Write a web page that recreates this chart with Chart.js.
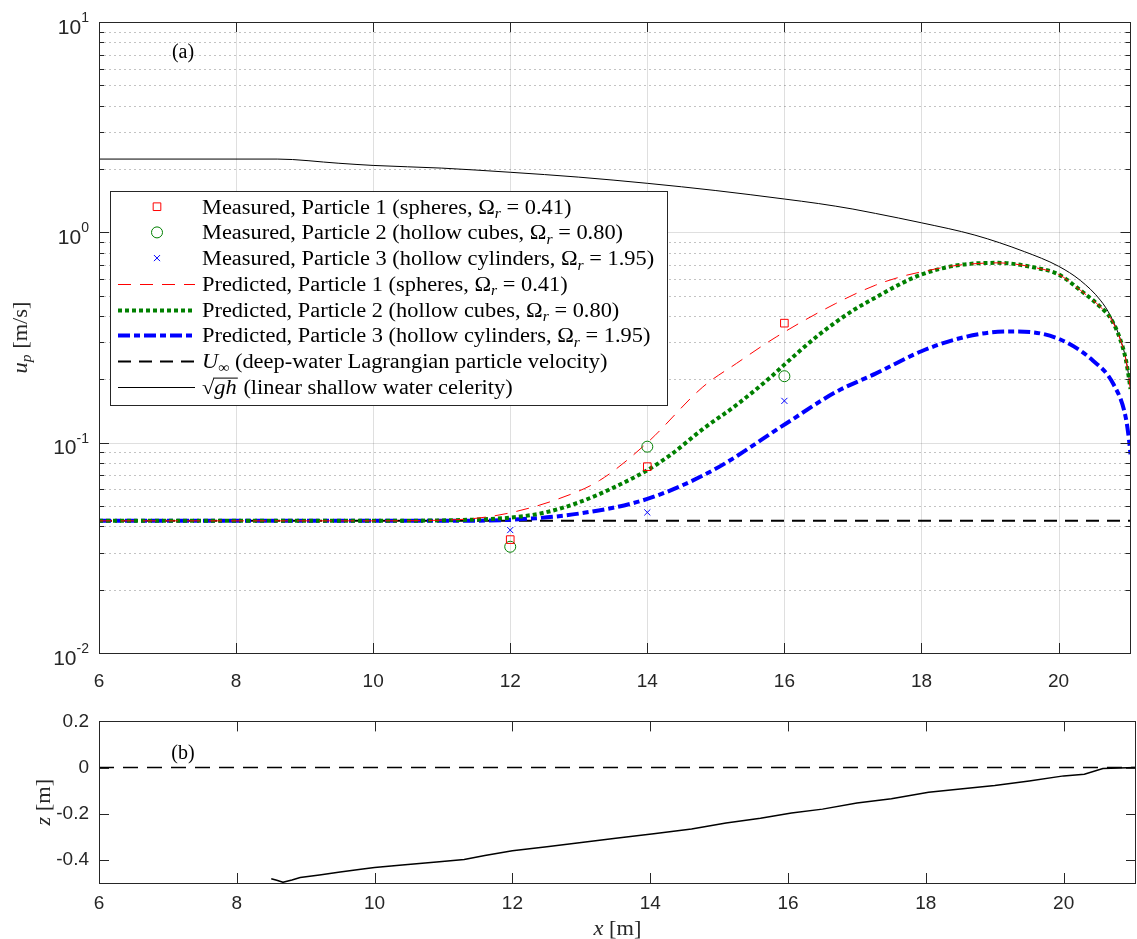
<!DOCTYPE html>
<html>
<head>
<meta charset="utf-8">
<script src="https://cdn.jsdelivr.net/npm/chart.js@4.4.0/dist/chart.umd.min.js"></script>
<style>
  html, body { margin: 0; padding: 0; background: #fff; }
  #wrap { position: relative; width: 1137px; height: 939px; }
  canvas { position: absolute; left: 0; }
  #top { top: 0; }
  #bottom { top: 700px; }
</style>
</head>
<body>
<div id="wrap">
  <canvas id="top" width="1137" height="700"></canvas>
  <canvas id="bottom" width="1137" height="239"></canvas>
</div>
<script>
// ---- data ----
var tickX = [6, 8, 10, 12, 14, 16, 18, 20];
var tickLogY = [0.01, 0.1, 1, 10];
var tickZ = [-0.4, -0.2, 0, 0.2];

var measuredX = [12, 14, 16];
var measured1 = [0.0346, 0.0769, 0.370];
var measured2 = [0.0320, 0.0957, 0.207];
var measured3 = [0.0384, 0.0466, 0.158];

var pred1X = [6, 10, 11, 11.5, 12, 12.7, 13.3, 14, 14.81, 15.3, 15.88, 16.75, 17.33, 17.7, 18.0, 18.54, 19.12, 19.65, 20.0, 20.32, 20.61, 20.76, 20.9, 20.98, 21.03, 21.05];
var pred1Y = [0.0425, 0.0425, 0.0428, 0.0437, 0.0464, 0.054, 0.066, 0.100, 0.184, 0.238, 0.318, 0.459, 0.561, 0.615, 0.649, 0.698, 0.716, 0.680, 0.631, 0.530, 0.442, 0.390, 0.310, 0.250, 0.200, 0.180];

var pred2X = [6, 10, 11, 11.5, 12, 12.5, 13, 13.5, 14, 14.33, 14.81, 15.3, 15.8, 16, 16.5, 17, 17.33, 17.7, 18.0, 18.5, 19.12, 19.65, 20.0, 20.32, 20.61, 20.76, 20.9, 20.98, 21.03, 21.05];
var pred2Y = [0.0425, 0.0425, 0.0427, 0.0431, 0.0440, 0.0465, 0.0520, 0.0610, 0.0740, 0.0870, 0.116, 0.151, 0.205, 0.235, 0.325, 0.425, 0.490, 0.570, 0.630, 0.695, 0.716, 0.680, 0.631, 0.530, 0.442, 0.390, 0.310, 0.250, 0.200, 0.180];

var pred3X = [6, 11, 12, 13, 14, 14.96, 16.02, 16.75, 17.33, 18.0, 18.5, 19.0, 19.4, 20.0, 20.5, 20.8, 20.98, 21.03, 21.05];
var pred3Y = [0.0425, 0.0425, 0.0430, 0.0460, 0.0540, 0.0740, 0.123, 0.174, 0.213, 0.272, 0.310, 0.334, 0.338, 0.312, 0.246, 0.190, 0.132, 0.102, 0.088];

var uInfX = [6, 21.05];
var uInfY = [0.0425, 0.0425];

var celX = [6, 8.6, 9.5, 10, 11, 12, 13, 14, 15, 16, 16.5, 17, 17.33, 18, 18.78, 19.5, 20.0, 20.32, 20.61, 20.76, 20.9, 20.98, 21.03, 21.05];
var celY = [2.23, 2.23, 2.13, 2.08, 2.02, 1.93, 1.83, 1.71, 1.58, 1.44, 1.37, 1.29, 1.23, 1.11, 0.97, 0.81, 0.69, 0.59, 0.476, 0.400, 0.312, 0.252, 0.202, 0.181];

var bedX = [8.5, 8.58, 8.67, 8.8, 8.92, 9.2, 9.5, 9.8, 10.0, 10.4, 10.9, 11.3, 11.6, 12.0, 12.5, 13.0, 13.5, 14.05, 14.6, 15.1, 15.6, 16.05, 16.5, 17.0, 17.5, 18.04, 18.5, 19.0, 19.5, 20.0, 20.3, 20.57, 20.8, 21.07];
var bedZ = [-0.482, -0.488, -0.497, -0.487, -0.476, -0.465, -0.452, -0.440, -0.433, -0.422, -0.409, -0.398, -0.381, -0.360, -0.343, -0.325, -0.306, -0.287, -0.266, -0.240, -0.220, -0.197, -0.180, -0.153, -0.135, -0.107, -0.093, -0.078, -0.058, -0.036, -0.029, -0.004, -0.002, 0.0];

var seaX = [6, 21.05];
var seaZ = [0, 0];

var labels = [
  'Measured, Particle 1 (spheres, Ω_r = 0.41)',
  'Measured, Particle 2 (hollow cubes, Ω_r = 0.80)',
  'Measured, Particle 3 (hollow cylinders, Ω_r = 1.95)',
  'Predicted, Particle 1 (spheres, Ω_r = 0.41)',
  'Predicted, Particle 2 (hollow cubes, Ω_r = 0.80)',
  'Predicted, Particle 3 (hollow cylinders, Ω_r = 1.95)',
  '$U$_∞ (deep-water Lagrangian particle velocity)',
  '√{gh} (linear shallow water celerity)'
];

// ---- drawing helpers ----
var AXIS = '#262626';
var SERIF = '"Liberation Serif", "DejaVu Serif", serif';
var SANS = '"Liberation Sans", Arial, sans-serif';
var STRETCH = 1.12; // computer-modern-ish width

function pts(xs, ys) {
  return xs.map(function (x, i) { return { x: x, y: ys[i] }; });
}

function richParts(str) {
  var re = /\$([^$]+)\$|_(.)|√\{([^}]+)\}|([^$_√]+)/g, m, out = [];
  while ((m = re.exec(str))) {
    if (m[1]) out.push({ t: m[1], it: true });
    else if (m[2]) out.push({ t: m[2], sub: true, it: /[a-z]/i.test(m[2]) });
    else if (m[3]) out.push({ t: m[3], sqrt: true, it: true });
    else out.push({ t: m[4] });
  }
  return out;
}
function partFont(p, size) {
  return (p.it ? 'italic ' : '') + (p.sub ? Math.round(size * 0.7) : size) + 'px ' + SERIF;
}
function richWidth(ctx, str, size) {
  var w = 0;
  richParts(str).forEach(function (p) {
    if (p.sqrt) { ctx.font = size + 'px ' + SERIF; w += ctx.measureText('√').width + 1; }
    ctx.font = partFont(p, size);
    w += ctx.measureText(p.t).width;
  });
  return w * STRETCH;
}
function richText(ctx, str, x0, y, size) {
  var x = 0;
  ctx.save();
  ctx.translate(x0, y);
  ctx.scale(STRETCH, 1);
  ctx.textAlign = 'left';
  ctx.textBaseline = 'alphabetic';
  richParts(str).forEach(function (p) {
    if (p.sqrt) {
      ctx.font = size + 'px ' + SERIF;
      ctx.fillText('√', x, 0);
      x += ctx.measureText('√').width - 1;
      ctx.font = partFont(p, size);
      var w = ctx.measureText(p.t).width;
      ctx.fillRect(x, Math.round(-size * 0.78), w + 2, 1);
      ctx.fillText(p.t, x + 1, 0);
      x += w + 2;
      return;
    }
    ctx.font = partFont(p, size);
    ctx.fillText(p.t, x, p.sub ? size * 0.22 : 0);
    x += ctx.measureText(p.t).width;
  });
  ctx.restore();
}
function rotatedTitle(ctx, str, cx, cy, size) {
  ctx.save();
  ctx.translate(cx, cy);
  ctx.rotate(-Math.PI / 2);
  ctx.fillStyle = AXIS;
  richText(ctx, str, -richWidth(ctx, str, size) / 2, 7, size);
  ctx.restore();
}
function hline(ctx, x1, x2, y) {
  y = Math.round(y) + 0.5;
  ctx.beginPath(); ctx.moveTo(x1, y); ctx.lineTo(x2, y); ctx.stroke();
}
function vline(ctx, x, y1, y2) {
  x = Math.round(x) + 0.5;
  ctx.beginPath(); ctx.moveTo(x, y1); ctx.lineTo(x, y2); ctx.stroke();
}

// grid, minor grid and inward ticks, drawn from the scales
var framePlugin = {
  id: 'frame',
  beforeDatasetsDraw: function (chart, args, opts) {
    var ctx = chart.ctx, a = chart.chartArea, sx = chart.scales.x, sy = chart.scales.y;
    ctx.save();
    ctx.lineWidth = 1;
    if (opts.grid) {
      ctx.strokeStyle = 'rgba(38,38,38,0.15)';
      tickX.forEach(function (v) { if (v > 6) vline(ctx, sx.getPixelForValue(v), a.top, a.bottom); });
      ctx.setLineDash([2, 3]);
      ctx.strokeStyle = 'rgba(38,38,38,0.28)';
      [0.01, 0.1, 1].forEach(function (d) {
        for (var k = 2; k <= 9; k++) hline(ctx, a.left, a.right, sy.getPixelForValue(k * d));
      });
      ctx.setLineDash([]);
      ctx.strokeStyle = 'rgba(38,38,38,0.15)';
      [0.1, 1].forEach(function (v) { hline(ctx, a.left, a.right, sy.getPixelForValue(v)); });
    }
    ctx.restore();
  },
  afterDatasetsDraw: function (chart, args, opts) {
    var ctx = chart.ctx, a = chart.chartArea, sx = chart.scales.x, sy = chart.scales.y;
    ctx.save();
    ctx.strokeStyle = AXIS;
    ctx.lineWidth = 1;
    tickX.forEach(function (v) {
      var p = sx.getPixelForValue(v);
      vline(ctx, p, a.bottom, a.bottom - 10);
      vline(ctx, p, a.top, a.top + 10);
    });
    sy.ticks.forEach(function (t) {
      var p = sy.getPixelForValue(t.value);
      hline(ctx, a.left, a.left + 10, p);
      hline(ctx, a.right - 10, a.right, p);
    });
    if (opts.grid) {
      [0.01, 0.1, 1].forEach(function (d) {
        for (var k = 2; k <= 9; k++) {
          var p = sy.getPixelForValue(k * d);
          hline(ctx, a.left, a.left + 5, p);
          hline(ctx, a.right - 5, a.right, p);
        }
      });
    }
    ctx.strokeRect(Math.round(a.left) + 0.5, Math.round(a.top) + 0.5,
      Math.round(a.right - a.left) - 1, Math.round(a.bottom - a.top));
    ctx.restore();
  },
  afterDraw: function (chart, args, opts) {
    var ctx = chart.ctx, a = chart.chartArea, sy = chart.scales.y;
    ctx.save();
    ctx.fillStyle = AXIS;
    if (opts.logLabels) {
      sy.ticks.forEach(function (t) {
        var p = sy.getPixelForValue(t.value);
        var e = String(Math.round(Math.log10(t.value)));
        ctx.font = '14px ' + SANS;
        var ew = ctx.measureText(e).width;
        ctx.textAlign = 'right';
        ctx.textBaseline = 'middle';
        ctx.fillText(e, 89, p - 4);
        ctx.font = '21px ' + SANS;
        ctx.fillText('10', 89 - ew, p + 6);
      });
    }
    ctx.fillStyle = '#000';
    ctx.font = '20px ' + SERIF;
    ctx.textAlign = 'center';
    ctx.textBaseline = 'middle';
    ctx.fillText(opts.panel, 183, a.top + opts.panelDy);
    rotatedTitle(ctx, opts.yTitle, opts.yTitleX, (a.top + a.bottom) / 2, 20);
    if (opts.xTitle) {
      ctx.fillStyle = AXIS;
      var w = richWidth(ctx, opts.xTitle, 20);
      richText(ctx, opts.xTitle, (a.left + a.right) / 2 - w / 2, chart.height - 4, 20);
    }
    ctx.restore();
  }
};

// legend drawn inside the plot area, like the original
var boxLegend = {
  id: 'boxLegend',
  afterDatasetsDraw: function (chart) {
    var ctx = chart.ctx;
    var left = 110, top = 191, right = 667, bottom = 405, row = 25.7, first = 206.7;
    ctx.save();
    ctx.fillStyle = '#fff';
    ctx.fillRect(left, top, right - left, bottom - top);
    ctx.strokeStyle = AXIS;
    ctx.lineWidth = 1;
    ctx.strokeRect(left + 0.5, top + 0.5, right - left, bottom - top);
    chart.data.datasets.forEach(function (ds, i) {
      var cy = first + i * row;
      ctx.save();
      if (ds.showLine) {
        ctx.strokeStyle = ds.borderColor;
        ctx.lineWidth = ds.borderWidth;
        ctx.setLineDash(ds.borderDash || []);
        ctx.beginPath();
        ctx.moveTo(118, Math.round(cy) + 0.5);
        ctx.lineTo(195, Math.round(cy) + 0.5);
        ctx.stroke();
      } else {
        ctx.strokeStyle = ds.borderColor;
        ctx.fillStyle = 'rgba(0,0,0,0)';
        ctx.lineWidth = 1;
        Chart.helpers.drawPoint(ctx, { pointStyle: ds.pointStyle, radius: ds.pointRadius, rotation: 0, borderWidth: 1 }, 157, cy);
      }
      ctx.restore();
      ctx.fillStyle = '#000';
      richText(ctx, ds.label, 202, cy + 7, 20);
    });
    ctx.restore();
  }
};

function fixTicks(values) {
  return function (scale) { scale.ticks = values.map(function (v) { return { value: v }; }); };
}

var tickFont = { family: SANS, size: 19 };

new Chart(document.getElementById('top'), {
  type: 'scatter',
  data: {
    datasets: [
      { label: labels[0], data: pts(measuredX, measured1), pointStyle: 'rect', pointRadius: 5.4, borderColor: '#ff0000', backgroundColor: 'rgba(0,0,0,0)', borderWidth: 1 },
      { label: labels[1], data: pts(measuredX, measured2), pointStyle: 'circle', pointRadius: 5.5, borderColor: '#008000', backgroundColor: 'rgba(0,0,0,0)', borderWidth: 1 },
      { label: labels[2], data: pts(measuredX, measured3), pointStyle: 'crossRot', pointRadius: 4.3, borderColor: '#0000ff', backgroundColor: 'rgba(0,0,0,0)', borderWidth: 1 },
      { label: labels[3], data: pts(pred1X, pred1Y), showLine: true, pointRadius: 0, borderColor: '#ff0000', borderWidth: 1, borderDash: [13, 9], cubicInterpolationMode: 'monotone' },
      { label: labels[4], data: pts(pred2X, pred2Y), showLine: true, pointRadius: 0, borderColor: '#008000', borderWidth: 4, borderDash: [4, 3], cubicInterpolationMode: 'monotone' },
      { label: labels[5], data: pts(pred3X, pred3Y), showLine: true, pointRadius: 0, borderColor: '#0000ff', borderWidth: 4, borderDash: [12, 4, 6, 4], cubicInterpolationMode: 'monotone' },
      { label: labels[6], data: pts(uInfX, uInfY), showLine: true, pointRadius: 0, borderColor: '#000000', borderWidth: 2, borderDash: [13, 8] },
      { label: labels[7], data: pts(celX, celY), showLine: true, pointRadius: 0, borderColor: '#000000', borderWidth: 1, cubicInterpolationMode: 'monotone' }
    ]
  },
  options: {
    responsive: false,
    animation: false,
    events: [],
    layout: { padding: { top: 22, right: 1, left: 0, bottom: 0 } },
    scales: {
      x: {
        type: 'linear', min: 6, max: 21.05,
        afterBuildTicks: fixTicks(tickX),
        afterFit: function (s) { s.height = 47; },
        grid: { display: false, drawTicks: false },
        border: { display: false },
        ticks: { font: tickFont, color: AXIS, padding: 17, maxRotation: 0 }
      },
      y: {
        type: 'logarithmic', min: 0.01, max: 10,
        afterBuildTicks: fixTicks(tickLogY),
        afterFit: function (s) { s.width = 99; },
        grid: { display: false, drawTicks: false },
        border: { display: false },
        ticks: { display: false }
      }
    },
    plugins: {
      legend: { display: false },
      tooltip: { enabled: false },
      frame: { grid: true, logLabels: true, panel: '(a)', panelDy: 31, yTitle: '$u$_p [m/s]', yTitleX: 20 }
    }
  },
  plugins: [framePlugin, boxLegend]
});

new Chart(document.getElementById('bottom'), {
  type: 'scatter',
  data: {
    datasets: [
      { label: 'bed', data: pts(bedX, bedZ), showLine: true, pointRadius: 0, borderColor: '#000000', borderWidth: 1.5 },
      { label: 'still water level', data: pts(seaX, seaZ), showLine: true, pointRadius: 0, borderColor: '#000000', borderWidth: 1.5, borderDash: [15, 9] }
    ]
  },
  options: {
    responsive: false,
    animation: false,
    events: [],
    layout: { padding: { top: 18, right: 1, left: 0, bottom: 0 } },
    scales: {
      x: {
        type: 'linear', min: 6, max: 21.05,
        afterBuildTicks: fixTicks(tickX),
        afterFit: function (s) { s.height = 56; },
        grid: { display: false, drawTicks: false },
        border: { display: false },
        ticks: { font: tickFont, color: AXIS, padding: 9, maxRotation: 0 }
      },
      y: {
        type: 'linear', min: -0.5, max: 0.2,
        afterBuildTicks: fixTicks(tickZ),
        afterFit: function (s) { s.width = 99; },
        grid: { display: false, drawTicks: false },
        border: { display: false },
        ticks: {
          font: tickFont, color: AXIS, padding: 10,
          callback: function (v) { return v === 0 ? '0' : v.toFixed(1); }
        }
      }
    },
    plugins: {
      legend: { display: false },
      tooltip: { enabled: false },
      frame: { grid: false, logLabels: false, panel: '(b)', panelDy: 32, yTitle: '$z$ [m]', yTitleX: 43, xTitle: '$x$ [m]' }
    }
  },
  plugins: [framePlugin]
});
</script>
</body>
</html>
